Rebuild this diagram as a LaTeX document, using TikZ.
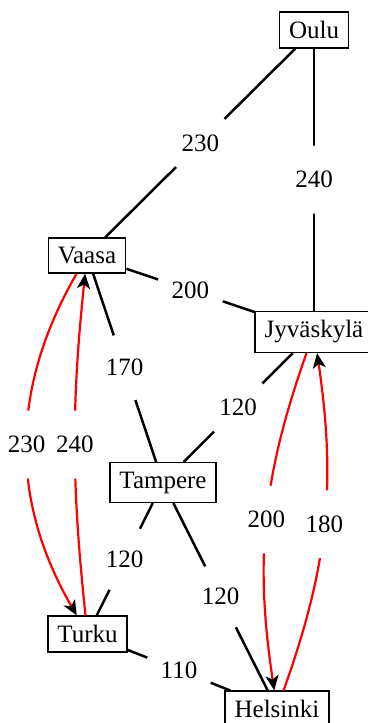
\documentclass[tikz,border=0pt]{standalone}
\usepackage{fontspec}
\setmainfont{Liberation Serif}
\usetikzlibrary{arrows.meta}
\begin{document}
\begin{tikzpicture}[x=1pt,y=-1pt,
  city/.style={draw, line width=1.5pt, inner xsep=9.5pt, inner ysep=9pt, font=\fontsize{25}{30}\selectfont},
  lbl/.style={circle, fill=white, inner sep=0pt, minimum size=68pt},
  num/.style={text=black, inner sep=0pt, font=\fontsize{25}{30}\selectfont},
  road/.style={line width=2.5pt, black},
  trip/.style={line width=2.2pt, red, -{Stealth[length=15pt,width=13pt,inset=4pt,color=black]}}
]
\useasboundingbox (0,0) rectangle (367,723);
\node[city] (oulu) at (314,30) {Oulu};
\node[city] (vaasa) at (87,255.5) {Vaasa};
\node[city] (jyv) at (314,332) {Jyväskylä};
\node[city] (tampere) at (163,482.5) {Tampere};
\node[city] (turku) at (87.5,634) {Turku};
\node[city] (helsinki) at (277,709) {Helsinki};
\draw[road] (oulu) -- node[lbl] (l1) {} (vaasa);
\draw[road] (oulu) -- node[lbl] (l2) {} (jyv);
\draw[road] (vaasa) -- node[lbl] (l3) {} (jyv);
\draw[road] (vaasa) -- node[lbl] (l4) {} (tampere);
\draw[road] (jyv) -- node[lbl] (l5) {} (tampere);
\draw[road] (tampere) -- node[lbl] (l6) {} (turku);
\draw[road] (tampere) -- node[lbl] (l7) {} (helsinki);
\draw[road] (turku) -- node[lbl] (l8) {} (helsinki);
\draw[trip] (vaasa) to[bend right=30] node[lbl] (l9) {} (turku);
\draw[trip] (turku) to[bend left=6] node[lbl] (l10) {} (vaasa);
\draw[trip] (jyv) to[bend right=14] node[lbl] (l11) {} (helsinki);
\draw[trip] (helsinki) to[bend right=14] node[lbl] (l12) {} (jyv);
\node[num] at (l1) {230};
\node[num] at (l2) {240};
\node[num] at (l3) {200};
\node[num] at (l4) {170};
\node[num] at (l5) {120};
\node[num] at (l6) {120};
\node[num] at (l7) {120};
\node[num] at (l8) {110};
\node[num] at (l9) {230};
\node[num] at (l10) {240};
\node[num] at (l11) {200};
\node[num] at (l12) {180};
\end{tikzpicture}
\end{document}
